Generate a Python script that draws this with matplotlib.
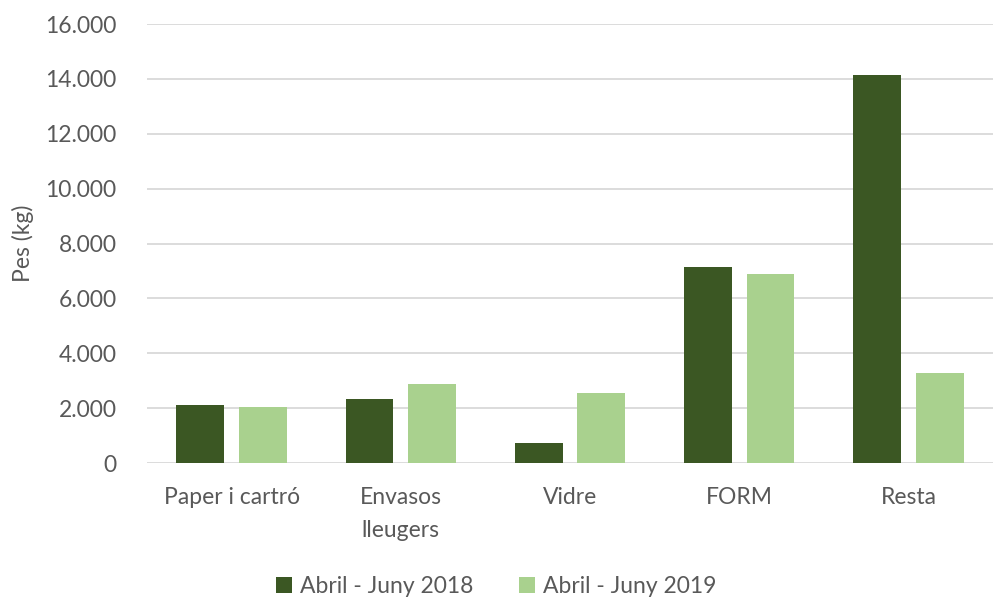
import numpy as np
import matplotlib.pyplot as plt
from matplotlib.ticker import FuncFormatter

categories = ['Paper i cartró', 'Envasos\nlleugers', 'Vidre', 'FORM', 'Resta']
pes_2018 = [2110, 2320, 740, 7140, 14150]
pes_2019 = [2050, 2890, 2560, 6910, 3290]
series_labels = ['Abril - Juny 2018', 'Abril - Juny 2019']

plt.rcParams['font.family'] = ['Lato', 'DejaVu Sans']
gris = '#595959'
fs = 16.5

fig = plt.figure(figsize=(9.93, 6.03), dpi=100)
ax = fig.add_axes([0.148, 0.232, 0.852, 0.728])

x = np.arange(len(categories))
w = 0.283
ax.bar(x - 0.185, pes_2018, w, color='#3b5723', label=series_labels[0], zorder=3)
ax.bar(x + 0.185, pes_2019, w, color='#a9d18e', label=series_labels[1], zorder=3)

ax.set_xlim(-0.5, 4.5)
ax.set_ylim(0, 16000)
ax.set_yticks(np.arange(0, 16001, 2000))
ax.yaxis.set_major_formatter(FuncFormatter(lambda v, p: f'{int(v):,}'.replace(',', '.')))
ax.grid(axis='y', color='#d9d9d9', linewidth=1.3, zorder=0)
for s in ax.spines.values():
    s.set_visible(False)
ax.tick_params(axis='y', length=0, pad=22, labelsize=fs, labelcolor=gris)
ax.tick_params(axis='x', length=0, pad=17, labelsize=fs, labelcolor=gris)
ax.set_xticks(x)
ax.set_xticklabels(categories, linespacing=1.75)
ax.set_ylabel('Pes (kg)', fontsize=fs, color=gris, labelpad=8)

fig.legend(loc='center', bbox_to_anchor=(0.5, 0.027), ncol=2, frameon=False,
           fontsize=fs, labelcolor=gris, handlelength=0.7, handleheight=0.7,
           handletextpad=0.35, columnspacing=2.0)

fig.savefig('out.png', dpi=100)
